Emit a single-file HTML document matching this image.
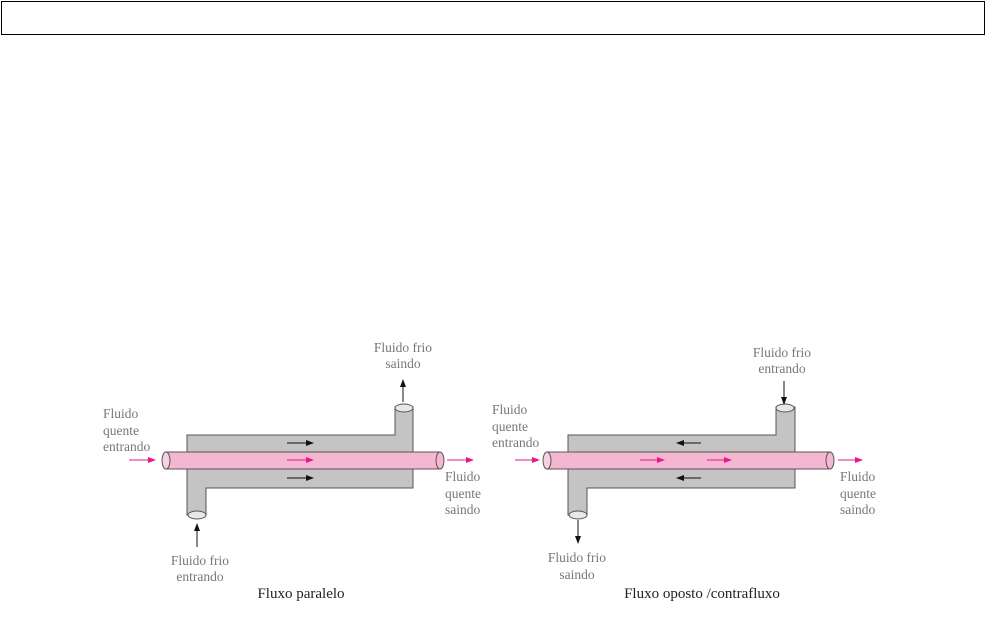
<!DOCTYPE html>
<html><head><style>
body{margin:0;width:987px;height:639px;background:#fff;overflow:hidden}
</style></head><body>
<svg width="987" height="639" xmlns="http://www.w3.org/2000/svg" font-family="Liberation Serif, serif">
<defs>
<marker id="ak" markerWidth="8" markerHeight="8" refX="7" refY="4" orient="auto" markerUnits="userSpaceOnUse"><path d="M0,1 L8,4 L0,7z" fill="#111"/></marker>
<marker id="ap" markerWidth="8" markerHeight="8" refX="7" refY="4" orient="auto" markerUnits="userSpaceOnUse"><path d="M0,1 L8,4 L0,7z" fill="#e8188a"/></marker>
</defs>
<rect x="1.5" y="1.5" width="983" height="33" fill="none" stroke="#000" stroke-width="1"/>

<g id="L">
<path d="M187,435 H395 V407 H413 V488 H206 V515 H187 Z" fill="#c4c4c4" stroke="#555" stroke-width="1"/>
<ellipse cx="404" cy="408" rx="9" ry="4" fill="#e8e8e8" stroke="#555"/>
<ellipse cx="197" cy="515" rx="9" ry="4" fill="#e8e8e8" stroke="#555"/>
<rect x="166" y="452" width="274" height="17" fill="#f5b6d2" stroke="#555"/>
<ellipse cx="166" cy="460.5" rx="4" ry="8.5" fill="#f8d0e2" stroke="#555"/>
<ellipse cx="440" cy="460.5" rx="4" ry="8.5" fill="#f5b6d2" stroke="#555"/>
<line x1="287" y1="443" x2="313" y2="443" stroke="#111" marker-end="url(#ak)"/>
<line x1="287" y1="478" x2="313" y2="478" stroke="#111" marker-end="url(#ak)"/>
<line x1="287" y1="460" x2="313" y2="460" stroke="#e8188a" marker-end="url(#ap)"/>
<line x1="129" y1="460" x2="155" y2="460" stroke="#e8188a" marker-end="url(#ap)"/>
<line x1="447" y1="460" x2="473" y2="460" stroke="#e8188a" marker-end="url(#ap)"/>
<line x1="403" y1="402" x2="403" y2="380" stroke="#111" marker-end="url(#ak)"/>
<line x1="197" y1="547" x2="197" y2="524" stroke="#111" marker-end="url(#ak)"/>
<g fill="#777" font-size="13.5" text-anchor="middle">
<text x="403" y="352">Fluido frio</text><text x="403" y="368">saindo</text>
<text x="200" y="565">Fluido frio</text><text x="200" y="581">entrando</text>
<text x="103" y="418" text-anchor="start">Fluido</text><text x="103" y="435" text-anchor="start">quente</text><text x="103" y="451" text-anchor="start">entrando</text>
<text x="445" y="481" text-anchor="start">Fluido</text><text x="445" y="498" text-anchor="start">quente</text><text x="445" y="514" text-anchor="start">saindo</text>
</g>
<text x="301" y="598" font-size="15" text-anchor="middle" fill="#222">Fluxo paralelo</text>
</g>

<g id="R">
<path d="M568,435 H776 V407 H795 V488 H587 V515 H568 Z" fill="#c4c4c4" stroke="#555" stroke-width="1"/>
<ellipse cx="785" cy="408" rx="9" ry="4" fill="#e8e8e8" stroke="#555"/>
<ellipse cx="578" cy="515" rx="9" ry="4" fill="#e8e8e8" stroke="#555"/>
<rect x="547" y="452" width="283" height="17" fill="#f5b6d2" stroke="#555"/>
<ellipse cx="547" cy="460.5" rx="4" ry="8.5" fill="#f8d0e2" stroke="#555"/>
<ellipse cx="830" cy="460.5" rx="4" ry="8.5" fill="#f5b6d2" stroke="#555"/>
<line x1="701" y1="443" x2="677" y2="443" stroke="#111" marker-end="url(#ak)"/>
<line x1="701" y1="478" x2="677" y2="478" stroke="#111" marker-end="url(#ak)"/>
<line x1="640" y1="460" x2="664" y2="460" stroke="#e8188a" marker-end="url(#ap)"/>
<line x1="707" y1="460" x2="731" y2="460" stroke="#e8188a" marker-end="url(#ap)"/>
<line x1="515" y1="460" x2="539" y2="460" stroke="#e8188a" marker-end="url(#ap)"/>
<line x1="838" y1="460" x2="862" y2="460" stroke="#e8188a" marker-end="url(#ap)"/>
<line x1="784" y1="381" x2="784" y2="404" stroke="#111" marker-end="url(#ak)"/>
<line x1="578" y1="520" x2="578" y2="543" stroke="#111" marker-end="url(#ak)"/>
<g fill="#777" font-size="13.5" text-anchor="middle">
<text x="782" y="357">Fluido frio</text><text x="782" y="373">entrando</text>
<text x="577" y="562">Fluido frio</text><text x="577" y="579">saindo</text>
<text x="492" y="414" text-anchor="start">Fluido</text><text x="492" y="431" text-anchor="start">quente</text><text x="492" y="447" text-anchor="start">entrando</text>
<text x="840" y="481" text-anchor="start">Fluido</text><text x="840" y="498" text-anchor="start">quente</text><text x="840" y="514" text-anchor="start">saindo</text>
</g>
<text x="702" y="598" font-size="15" text-anchor="middle" fill="#222">Fluxo oposto /contrafluxo</text>
</g>
</svg>
</body></html>
